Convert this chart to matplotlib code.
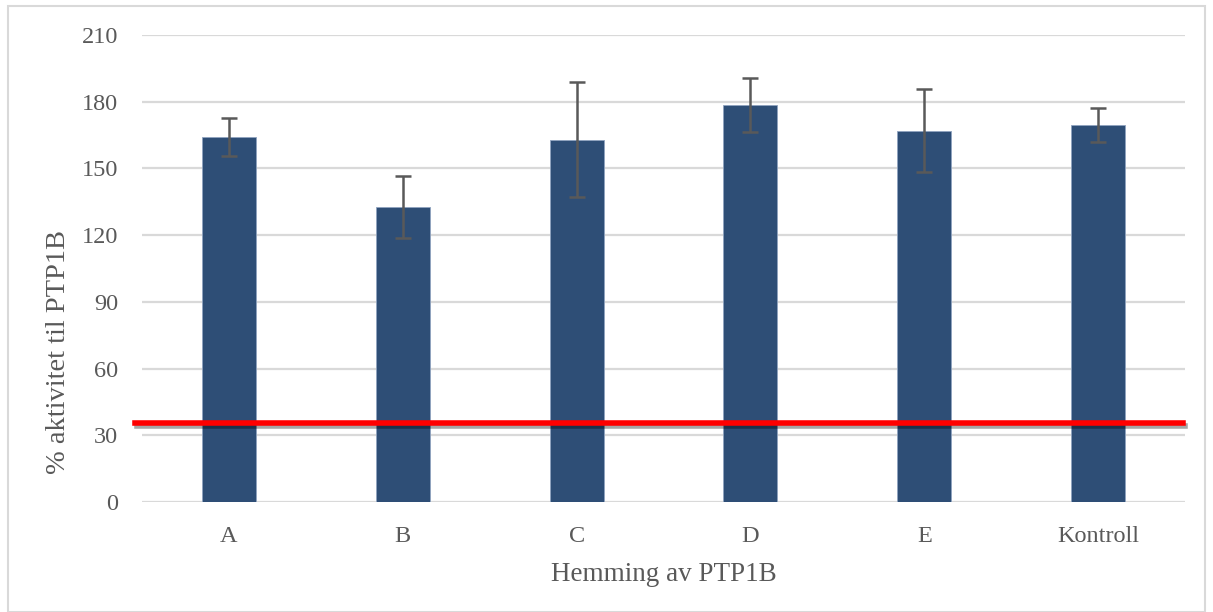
import matplotlib
matplotlib.use("Agg")
import matplotlib.pyplot as plt
import matplotlib.patheffects as pe
from matplotlib.patches import Rectangle

categories = ["A", "B", "C", "D", "E", "Kontroll"]
values = [164, 132.5, 163, 178.5, 167, 169.5]
errors = [8.5, 14, 26, 12.3, 18.7, 7.5]
threshold = 35.5
yticks = [0, 30, 60, 90, 120, 150, 180, 210]

plt.rcParams['font.family'] = ['Liberation Serif', 'DejaVu Serif']
text_col = '#595959'

fig = plt.figure(figsize=(12.13, 6.12), dpi=100)
ax = fig.add_axes([142/1213, 1 - 502/612, (1185-142)/1213, (502-35)/612])

x = list(range(len(categories)))
ax.bar(x, values, width=0.31, color='#2e4e76', edgecolor='#8fa3bf', linewidth=0.6, zorder=3,
       yerr=errors, error_kw=dict(ecolor='#595959', elinewidth=1.8, capsize=6, capthick=1.8, zorder=4))

ax.set_xlim(-0.5, len(categories) - 0.5)
ax.set_ylim(0, 210)
ax.set_yticks(yticks)
ax.set_xticks(x)
ax.set_xticklabels(categories)
ax.yaxis.grid(True, color='#d9d9d9', linewidth=1.6, zorder=0)
ax.set_axisbelow(True)
for s in ax.spines.values():
    s.set_visible(False)
ax.tick_params(axis='both', length=0, labelsize=17.5, colors=text_col)
ax.tick_params(axis='x', pad=17)
ax.tick_params(axis='y', pad=17)

ax.axhline(threshold, xmin=-0.007, xmax=0.998, color='#ff0000', linewidth=4, zorder=5, clip_on=False,
           path_effects=[pe.SimpleLineShadow(offset=(1.5, -2), shadow_color='black', alpha=0.35), pe.Normal()])

ax.set_xlabel("Hemming av PTP1B", fontsize=19.5, color=text_col)
ax.set_ylabel("% aktivitet til PTP1B", fontsize=20.5, color=text_col)
ax.xaxis.set_label_coords(0.5, -0.128)
ax.yaxis.set_label_coords(-0.068, 0.321)

fig.patches.append(Rectangle((8/1213, 0.0), (1205-8)/1213, 1 - 6/612, transform=fig.transFigure,
                             fill=False, edgecolor='#d9d9d9', linewidth=1.5))

fig.savefig("out.png", dpi=100, facecolor='white')
